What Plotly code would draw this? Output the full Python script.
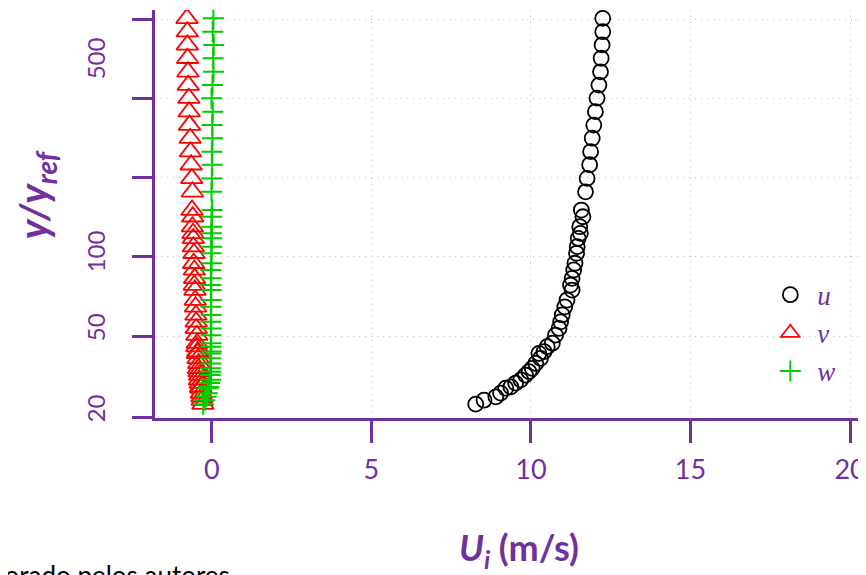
import plotly.graph_objects as go

# ---- data ----
y_ratio = [751, 664, 588, 520, 459, 406, 360, 318, 281, 249, 220, 195, 172, 152,
           128.5, 120.8, 110.2, 103.7, 99.0, 91.7, 86.3, 78.7, 74.0, 68.5,
           64.4, 61.5, 56.1, 52.7, 48.9, 45.9, 43.2, 40.6, 37.7, 36.5,
           34.9, 34.3, 32.8, 31.3, 29.9, 29.0, 28.1, 26.9, 26.1, 25.2,
           24.9, 23.8, 23.0, 22.3, 21.5]

u_vals = [12.25, 12.25, 12.23, 12.20, 12.18, 12.13, 12.07, 12.02, 11.97, 11.92, 11.87, 11.84, 11.76, 11.71,
          11.58, 11.63, 11.53, 11.55, 11.48, 11.45, 11.43, 11.38, 11.34, 11.29,
          11.24, 11.29, 11.13, 11.06, 10.98, 10.93, 10.88, 10.77, 10.67, 10.51,
          10.41, 10.25, 10.30, 10.15, 10.04, 9.94, 9.83, 9.68, 9.52, 9.37,
          9.21, 9.05, 8.90, 8.53, 8.27]

v_vals = [-0.78, -0.77, -0.77, -0.76, -0.75, -0.74, -0.72, -0.71, -0.70, -0.68, -0.67, -0.65, -0.63, -0.61,
          -0.62, -0.60, -0.61, -0.59, -0.58, -0.58, -0.56, -0.57, -0.55, -0.54,
          -0.55, -0.53, -0.52, -0.51, -0.50, -0.49, -0.49, -0.47, -0.46, -0.47,
          -0.44, -0.45, -0.43, -0.41, -0.42, -0.40, -0.38, -0.39, -0.36, -0.35,
          -0.34, -0.33, -0.31, -0.30, -0.28]

w_vals = [0.05, 0.03, 0.06, 0.04, 0.05, 0.02, -0.01, 0.03, 0.01, 0.02, 0.00, 0.01, 0.00, -0.01,
          0.01, -0.01, 0.00, -0.02, 0.00, -0.01, -0.02, -0.01, -0.03, -0.02,
          -0.03, -0.02, -0.02, -0.03, -0.02, -0.03, -0.02, -0.03, -0.02, -0.03,
          -0.02, -0.03, -0.04, -0.03, -0.04, -0.03, -0.05, -0.04, -0.07, -0.10,
          -0.12, -0.14, -0.18, -0.22, -0.27]

series_names = ["u", "v", "w"]
x_ticks = [0, 5, 10, 15, 20]
x_tick_labels = ["0", "5", "10", "15", "20"]
y_tick_marks = [19.0, 40.0, 83.6, 173, 358, 746]
y_label_positions = [20.0, 42.2, 84.9, 502]
y_tick_labels = ["20", "50", "100", "500"]

PURPLE = "#7030A0"
FONT = "Lato"

fig = go.Figure()
fig.add_trace(go.Scatter(x=u_vals, y=y_ratio, mode="markers", name="<i>%s</i>" % series_names[0],
                         marker=dict(symbol="circle-open", size=15, color="black",
                                     line=dict(width=1.8, color="black"))))
fig.add_trace(go.Scatter(x=v_vals, y=y_ratio, mode="markers", name="<i>%s</i>" % series_names[1],
                         marker=dict(symbol="triangle-up-open", size=19, color="#FF0000",
                                     line=dict(width=1.8, color="#FF0000"))))
fig.add_trace(go.Scatter(x=w_vals, y=y_ratio, mode="markers", name="<i>%s</i>" % series_names[2],
                         marker=dict(symbol="cross-thin-open", size=15, color="#00CD00",
                                     line=dict(width=2, color="#00CD00"))))
# invisible trace to carry the label axis
fig.add_trace(go.Scatter(x=[None], y=[None], yaxis="y2", showlegend=False, hoverinfo="skip"))

LOG_RANGE = [1.2771, 2.9090]

fig.update_layout(
    width=858, height=567,
    margin=dict(l=147, r=0, t=2, b=157),
    paper_bgcolor="white", plot_bgcolor="white",
    font=dict(family=FONT, color=PURPLE),
    xaxis=dict(range=[-1.78125, 20.4375], tickvals=x_ticks, ticktext=x_tick_labels,
               showline=True, linecolor=PURPLE, linewidth=3,
               ticks="outside", ticklen=22, tickwidth=3, tickcolor=PURPLE,
               tickfont=dict(family=FONT, size=27, color=PURPLE),
               ticklabelstandoff=4, ticklabeloverflow="allow",
               showgrid=True, gridcolor="#C0C0C0", gridwidth=1, griddash="1px,5px",
               zeroline=False),
    yaxis=dict(type="log", range=LOG_RANGE, tickvals=y_tick_marks,
               showticklabels=False,
               showline=True, linecolor=PURPLE, linewidth=3,
               ticks="outside", ticklen=20, tickwidth=3, tickcolor=PURPLE,
               showgrid=True, gridcolor="#C0C0C0", gridwidth=1, griddash="1px,5px",
               zeroline=False),
    yaxis2=dict(type="log", range=LOG_RANGE, overlaying="y", side="left",
                tickvals=y_label_positions, ticktext=y_tick_labels,
                tickangle=-90, ticks="", showline=False, showgrid=False, zeroline=False,
                tickfont=dict(family=FONT, size=24, color=PURPLE),
                ticklabelstandoff=44),
    legend=dict(x=0.858, y=0.208, xanchor="left", yanchor="middle",
                bgcolor="rgba(0,0,0,0)", borderwidth=0, itemwidth=44,
                font=dict(family="Liberation Serif", size=27, color=PURPLE)),
    showlegend=True,
)

fig.add_annotation(xref="paper", yref="paper", x=-0.1674, y=0.5466,
                   xanchor="center", yanchor="middle",
                   text="<b><i>y/y<sub>ref</sub></i></b>", textangle=-90, showarrow=False,
                   font=dict(family=FONT, size=40, color=PURPLE))
fig.add_annotation(xref="paper", yref="paper", x=0.5134, y=-0.3235,
                   xanchor="center", yanchor="middle",
                   text="<b><i>U</i><sub><i>i</i></sub> (m/s)</b>", showarrow=False,
                   font=dict(family=FONT, size=36, color=PURPLE))
fig.add_annotation(xref="paper", yref="paper", x=0.1083, y=-0.3848, xanchor="right",
                   yanchor="middle", text="Elaborado pelos autores", showarrow=False,
                   font=dict(family=FONT, size=26, color="black"))

fig.write_html("out.html")
